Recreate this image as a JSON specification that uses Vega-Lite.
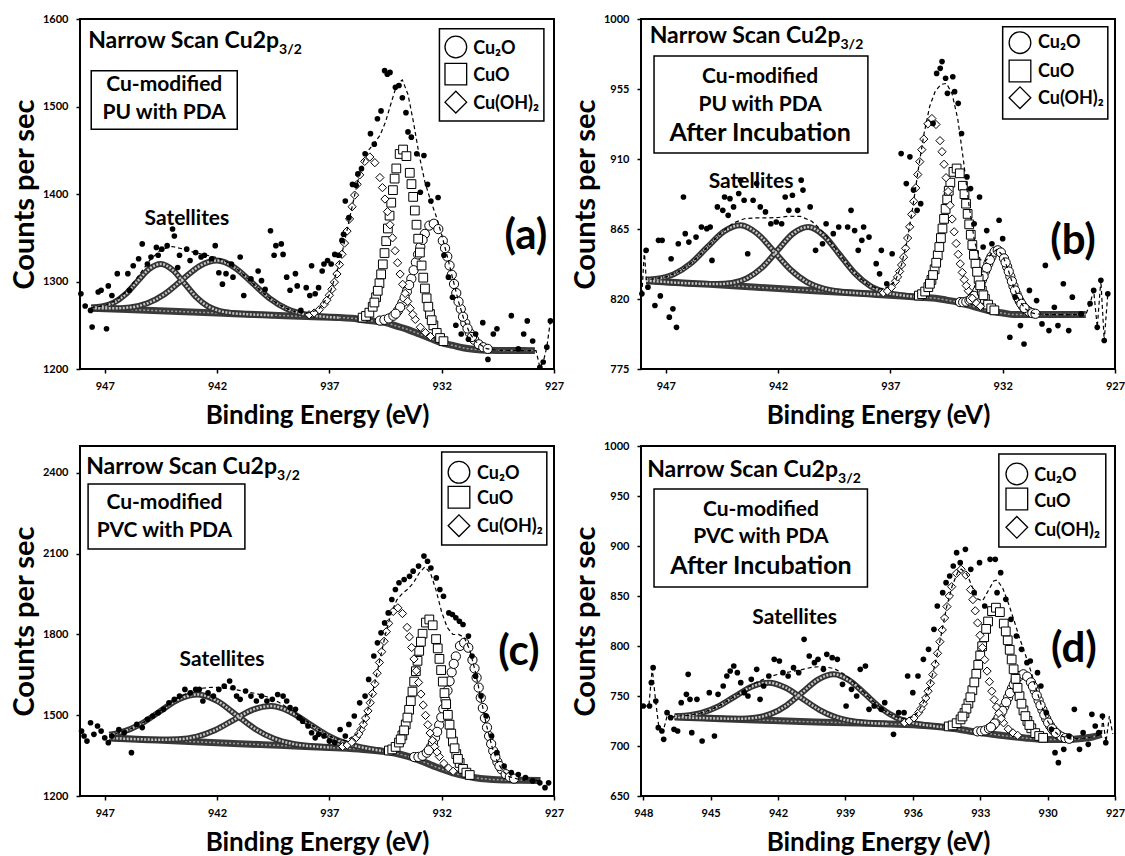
{
"$schema": "https://vega.github.io/schema/vega-lite/v6.json",
"background": "white",
"padding": {"left": 9, "top": 12, "right": 0, "bottom": 0},
"config": {
  "font": "Lato",
  "view": {"stroke": "black", "strokeWidth": 2},
  "axis": {"domain": false, "grid": false, "ticks": true, "tickSize": 4, "tickColor": "black", "tickWidth": 1.5, "labelFont": "Lato", "labelFontWeight": "bold", "labelFontSize": 11, "labelColor": "black", "labelPadding": 7, "titleFont": "Lato", "titleFontWeight": "bold", "titleFontSize": 26, "titleColor": "black", "labelFlush": false, "labelOverlap": false},
  "axisX": {"titlePadding": 11},
  "axisY": {"titlePadding": 3, "labelPadding": 8, "titleFontSize": 29}
},
"datasets": {
"bg": [
{"p":"a","x":947.6,"y":1269.5},{"p":"a","x":946,"y":1268},{"p":"a","x":944,"y":1266},{"p":"a","x":942,"y":1264},{"p":"a","x":940,"y":1262},{"p":"a","x":938,"y":1260},{"p":"a","x":936,"y":1258},{"p":"a","x":935.5,"y":1256.3},{"p":"a","x":935,"y":1254.7},{"p":"a","x":934.5,"y":1253},{"p":"a","x":934,"y":1249},{"p":"a","x":933.5,"y":1245},{"p":"a","x":933,"y":1240},{"p":"a","x":932.5,"y":1235},{"p":"a","x":932,"y":1230},{"p":"a","x":931.5,"y":1227},{"p":"a","x":931,"y":1224},{"p":"a","x":930.5,"y":1222.3},{"p":"a","x":930,"y":1221.5},{"p":"a","x":929,"y":1221.2},{"p":"a","x":927.85,"y":1221},
{"p":"b","x":947.87,"y":831.8},{"p":"b","x":946,"y":830.2},{"p":"b","x":944,"y":828.5},{"p":"b","x":942,"y":826.7},{"p":"b","x":940,"y":825},{"p":"b","x":938,"y":823.3},{"p":"b","x":936.5,"y":822},{"p":"b","x":935.5,"y":821},{"p":"b","x":935,"y":820.5},{"p":"b","x":934.5,"y":819.3},{"p":"b","x":934,"y":818},{"p":"b","x":933.5,"y":816},{"p":"b","x":933,"y":814},{"p":"b","x":932.5,"y":812},{"p":"b","x":932,"y":811},{"p":"b","x":931.5,"y":810},{"p":"b","x":930,"y":810},{"p":"b","x":928.3,"y":810},
{"p":"c","x":946.8,"y":1415.3},{"p":"c","x":945,"y":1408.8},{"p":"c","x":943,"y":1401.6},{"p":"c","x":941,"y":1394.3},{"p":"c","x":939,"y":1387.1},{"p":"c","x":937,"y":1379.8},{"p":"c","x":936.5,"y":1378},{"p":"c","x":935.5,"y":1373},{"p":"c","x":934.5,"y":1365},{"p":"c","x":934,"y":1358},{"p":"c","x":933.5,"y":1347},{"p":"c","x":933,"y":1333},{"p":"c","x":932.5,"y":1316},{"p":"c","x":932,"y":1300},{"p":"c","x":931.5,"y":1286},{"p":"c","x":931,"y":1276},{"p":"c","x":930.5,"y":1268},{"p":"c","x":930,"y":1263},{"p":"c","x":929.5,"y":1260},{"p":"c","x":928.5,"y":1258.7},{"p":"c","x":927.6,"y":1258},
{"p":"d","x":946.6,"y":729},{"p":"d","x":945,"y":727.7},{"p":"d","x":943,"y":726.1},{"p":"d","x":941,"y":724.5},{"p":"d","x":939,"y":723.3},{"p":"d","x":937,"y":722},{"p":"d","x":935.5,"y":720.5},{"p":"d","x":934.5,"y":718.5},{"p":"d","x":934,"y":717},{"p":"d","x":933.5,"y":715},{"p":"d","x":933,"y":713.5},{"p":"d","x":932,"y":710.5},{"p":"d","x":931,"y":708},{"p":"d","x":930,"y":706.5},{"p":"d","x":929,"y":706.5},{"p":"d","x":928.5,"y":707.5},{"p":"d","x":928,"y":709},{"p":"d","x":927.6,"y":711.5}
],
"sat": [
{"p":"a","s":1,"x":947.6,"y":1270.2},{"p":"a","s":1,"x":947.125,"y":1271.4},{"p":"a","s":1,"x":946.6,"y":1275.8},{"p":"a","s":1,"x":946.075,"y":1285.4},{"p":"a","s":1,"x":945.55,"y":1300},{"p":"a","s":1,"x":945.025,"y":1314.2},{"p":"a","s":1,"x":944.5,"y":1320},{"p":"a","s":1,"x":943.975,"y":1313.2},{"p":"a","s":1,"x":943.45,"y":1297.9},{"p":"a","s":1,"x":942.925,"y":1282.2},{"p":"a","s":1,"x":942.4,"y":1271.6},{"p":"a","s":1,"x":941.875,"y":1266.2},{"p":"a","s":1,"x":941.35,"y":1263.9},{"p":"a","s":1,"x":940.5,"y":1262.4},{"p":"a","s":1,"x":939.5,"y":1261.4},
{"p":"a","s":2,"x":947.6,"y":1269.5},{"p":"a","s":2,"x":946.65,"y":1269.3},{"p":"a","s":2,"x":945.875,"y":1270.4},{"p":"a","s":2,"x":945.1,"y":1275.1},{"p":"a","s":2,"x":944.325,"y":1285.7},{"p":"a","s":2,"x":943.55,"y":1301.9},{"p":"a","s":2,"x":942.775,"y":1317.7},{"p":"a","s":2,"x":942,"y":1323.9},{"p":"a","s":2,"x":941.225,"y":1316.1},{"p":"a","s":2,"x":940.45,"y":1298.8},{"p":"a","s":2,"x":939.675,"y":1281.1},{"p":"a","s":2,"x":938.9,"y":1268.9},{"p":"a","s":2,"x":938.125,"y":1262.7},{"p":"a","s":2,"x":937.35,"y":1260},{"p":"a","s":2,"x":936.575,"y":1258.7},
{"p":"b","s":1,"x":947.87,"y":832.5},{"p":"b","s":1,"x":947.37,"y":833.1},{"p":"b","s":1,"x":946.63,"y":836},{"p":"b","s":1,"x":945.89,"y":842.8},{"p":"b","s":1,"x":945.15,"y":853.3},{"p":"b","s":1,"x":944.41,"y":863.4},{"p":"b","s":1,"x":943.67,"y":867.4},{"p":"b","s":1,"x":942.93,"y":862.1},{"p":"b","s":1,"x":942.19,"y":850.7},{"p":"b","s":1,"x":941.45,"y":839},{"p":"b","s":1,"x":940.71,"y":830.9},{"p":"b","s":1,"x":939.97,"y":826.7},{"p":"b","s":1,"x":939.23,"y":824.7},{"p":"b","s":1,"x":938.49,"y":823.8},{"p":"b","s":1,"x":937.5,"y":822.9},
{"p":"b","s":2,"x":947.87,"y":831.8},{"p":"b","s":2,"x":945.41,"y":829.8},{"p":"b","s":2,"x":944.73,"y":829.6},{"p":"b","s":2,"x":944.05,"y":830.3},{"p":"b","s":2,"x":943.37,"y":833.4},{"p":"b","s":2,"x":942.69,"y":840.5},{"p":"b","s":2,"x":942.01,"y":851.5},{"p":"b","s":2,"x":941.33,"y":862.1},{"p":"b","s":2,"x":940.65,"y":866.3},{"p":"b","s":2,"x":939.97,"y":860.9},{"p":"b","s":2,"x":939.29,"y":849.1},{"p":"b","s":2,"x":938.61,"y":837},{"p":"b","s":2,"x":937.93,"y":828.7},{"p":"b","s":2,"x":937.25,"y":824.4},{"p":"b","s":2,"x":936.57,"y":822.5},{"p":"b","s":2,"x":935.89,"y":821.5},
{"p":"c","s":1,"x":946.8,"y":1427.3},{"p":"c","s":1,"x":946.25,"y":1437.1},{"p":"c","s":1,"x":945.4,"y":1467.3},{"p":"c","s":1,"x":944.55,"y":1513.9},{"p":"c","s":1,"x":943.7,"y":1559.4},{"p":"c","s":1,"x":942.85,"y":1577},{"p":"c","s":1,"x":942,"y":1553.2},{"p":"c","s":1,"x":941.15,"y":1501.6},{"p":"c","s":1,"x":940.3,"y":1448.9},{"p":"c","s":1,"x":939.45,"y":1412.5},{"p":"c","s":1,"x":938.6,"y":1393.3},{"p":"c","s":1,"x":937.75,"y":1384.6},{"p":"c","s":1,"x":936.9,"y":1379.9},
{"p":"c","s":2,"x":946.8,"y":1415.3},{"p":"c","s":2,"x":945.375,"y":1410.5},{"p":"c","s":2,"x":944.55,"y":1408.8},{"p":"c","s":2,"x":943.725,"y":1410.6},{"p":"c","s":2,"x":942.9,"y":1420.8},{"p":"c","s":2,"x":942.075,"y":1445.2},{"p":"c","s":2,"x":941.25,"y":1483},{"p":"c","s":2,"x":940.425,"y":1520},{"p":"c","s":2,"x":939.6,"y":1534},{"p":"c","s":2,"x":938.775,"y":1514.1},{"p":"c","s":2,"x":937.95,"y":1471.1},{"p":"c","s":2,"x":937.125,"y":1427.3},{"p":"c","s":2,"x":936.3,"y":1396.7},{"p":"c","s":2,"x":935.475,"y":1379.2},{"p":"c","s":2,"x":934.65,"y":1367.8},
{"p":"d","s":1,"x":946.6,"y":729.8},{"p":"d","s":1,"x":946.16,"y":730.3},{"p":"d","s":1,"x":945.41,"y":733.1},{"p":"d","s":1,"x":944.66,"y":739.6},{"p":"d","s":1,"x":943.91,"y":749.7},{"p":"d","s":1,"x":943.16,"y":759.5},{"p":"d","s":1,"x":942.41,"y":763.3},{"p":"d","s":1,"x":941.66,"y":758.3},{"p":"d","s":1,"x":940.91,"y":747.3},{"p":"d","s":1,"x":940.16,"y":736.2},{"p":"d","s":1,"x":939.41,"y":728.6},{"p":"d","s":1,"x":938.66,"y":724.7},{"p":"d","s":1,"x":937.91,"y":723},{"p":"d","s":1,"x":937.16,"y":722.2},
{"p":"d","s":2,"x":946.6,"y":729},{"p":"d","s":2,"x":944.42,"y":727.4},{"p":"d","s":2,"x":943.72,"y":727.2},{"p":"d","s":2,"x":943.02,"y":728.2},{"p":"d","s":2,"x":942.32,"y":732.1},{"p":"d","s":2,"x":941.62,"y":740.6},{"p":"d","s":2,"x":940.92,"y":753.6},{"p":"d","s":2,"x":940.22,"y":766.4},{"p":"d","s":2,"x":939.52,"y":771.7},{"p":"d","s":2,"x":938.82,"y":765.5},{"p":"d","s":2,"x":938.12,"y":751.9},{"p":"d","s":2,"x":937.42,"y":737.9},{"p":"d","s":2,"x":936.72,"y":728.2},{"p":"d","s":2,"x":936.02,"y":723.1},{"p":"d","s":2,"x":935.32,"y":720.6},{"p":"d","s":2,"x":934.62,"y":718.8}
],
"cmp": [
{"p":"a","c":"o","x":934.75,"y":1255.3},{"p":"a","c":"o","x":934.55,"y":1256.2},{"p":"a","c":"o","x":934.35,"y":1257.8},{"p":"a","c":"o","x":934.15,"y":1260.9},{"p":"a","c":"o","x":933.95,"y":1266.5},{"p":"a","c":"o","x":933.75,"y":1275.7},{"p":"a","c":"o","x":933.55,"y":1288.4},{"p":"a","c":"o","x":933.35,"y":1303.2},{"p":"a","c":"o","x":933.15,"y":1321.9},{"p":"a","c":"o","x":932.95,"y":1339.5},{"p":"a","c":"o","x":932.75,"y":1354.4},{"p":"a","c":"o","x":932.55,"y":1363.9},{"p":"a","c":"o","x":932.35,"y":1366},{"p":"a","c":"o","x":932.15,"y":1359.9},{"p":"a","c":"o","x":931.95,"y":1346.6},{"p":"a","c":"o","x":931.75,"y":1328.5},{"p":"a","c":"o","x":931.55,"y":1307.7},{"p":"a","c":"o","x":931.35,"y":1286.8},{"p":"a","c":"o","x":931.15,"y":1268.6},{"p":"a","c":"o","x":930.95,"y":1252.6},{"p":"a","c":"o","x":930.75,"y":1241.3},{"p":"a","c":"o","x":930.55,"y":1233.4},{"p":"a","c":"o","x":930.35,"y":1228.2},{"p":"a","c":"o","x":930.15,"y":1224.9},{"p":"a","c":"o","x":929.95,"y":1223},
{"p":"a","c":"o","x":932.85,"y":1347.5},{"p":"a","c":"o","x":933.05,"y":1330.9},{"p":"a","c":"o","x":933.25,"y":1312.9},{"p":"a","c":"o","x":933.45,"y":1296},{"p":"a","c":"o","x":933.65,"y":1281.6},{"p":"a","c":"o","x":933.85,"y":1270.6},{"p":"a","c":"o","x":934.05,"y":1263.2},{"p":"a","c":"o","x":931.85,"y":1338.1},{"p":"a","c":"o","x":931.65,"y":1318.3},{"p":"a","c":"o","x":931.45,"y":1297.1},{"p":"a","c":"o","x":931.25,"y":1277},{"p":"a","c":"o","x":931.05,"y":1259.7},{"p":"a","c":"o","x":930.85,"y":1246.3},{"p":"a","c":"o","x":930.65,"y":1236.6},
{"p":"a","c":"s","x":935.52,"y":1258.7},{"p":"a","c":"s","x":935.37,"y":1260.6},{"p":"a","c":"s","x":935.22,"y":1264.4},{"p":"a","c":"s","x":935.07,"y":1271.1},{"p":"a","c":"s","x":934.92,"y":1282},{"p":"a","c":"s","x":934.77,"y":1298},{"p":"a","c":"s","x":934.62,"y":1319.6},{"p":"a","c":"s","x":934.47,"y":1346.2},{"p":"a","c":"s","x":934.32,"y":1375.3},{"p":"a","c":"s","x":934.17,"y":1404.4},{"p":"a","c":"s","x":934.02,"y":1429.2},{"p":"a","c":"s","x":933.87,"y":1445.7},{"p":"a","c":"s","x":933.72,"y":1450.8},{"p":"a","c":"s","x":933.57,"y":1443.3},{"p":"a","c":"s","x":933.42,"y":1424.2},{"p":"a","c":"s","x":933.27,"y":1396.7},{"p":"a","c":"s","x":933.12,"y":1364.9},{"p":"a","c":"s","x":932.97,"y":1333.1},{"p":"a","c":"s","x":932.82,"y":1304.4},{"p":"a","c":"s","x":932.67,"y":1280.8},{"p":"a","c":"s","x":932.52,"y":1262.8},{"p":"a","c":"s","x":932.37,"y":1249.9},{"p":"a","c":"s","x":932.22,"y":1241.2},{"p":"a","c":"s","x":932.07,"y":1235.4},{"p":"a","c":"s","x":931.92,"y":1231.8},
{"p":"a","c":"s","x":934.095,"y":1417.6},{"p":"a","c":"s","x":934.245,"y":1390.1},{"p":"a","c":"s","x":934.395,"y":1360.6},{"p":"a","c":"s","x":934.545,"y":1332.5},{"p":"a","c":"s","x":934.695,"y":1308.2},{"p":"a","c":"s","x":934.845,"y":1289.4},{"p":"a","c":"s","x":934.995,"y":1276},{"p":"a","c":"s","x":933.345,"y":1411.3},{"p":"a","c":"s","x":933.195,"y":1381.1},{"p":"a","c":"s","x":933.045,"y":1348.9},{"p":"a","c":"s","x":932.895,"y":1318.3},{"p":"a","c":"s","x":932.745,"y":1292},{"p":"a","c":"s","x":932.595,"y":1271.2},{"p":"a","c":"s","x":932.445,"y":1255.8},
{"p":"a","c":"d","x":937.9,"y":1262},{"p":"a","c":"d","x":937.675,"y":1264},{"p":"a","c":"d","x":937.45,"y":1267.7},{"p":"a","c":"d","x":937.225,"y":1274.1},{"p":"a","c":"d","x":937.0,"y":1284.3},{"p":"a","c":"d","x":936.775,"y":1299.2},{"p":"a","c":"d","x":936.55,"y":1319.3},{"p":"a","c":"d","x":936.325,"y":1343.9},{"p":"a","c":"d","x":936.1,"y":1371.5},{"p":"a","c":"d","x":935.875,"y":1398.7},{"p":"a","c":"d","x":935.65,"y":1421.8},{"p":"a","c":"d","x":935.425,"y":1437.3},{"p":"a","c":"d","x":935.2,"y":1442.3},{"p":"a","c":"d","x":934.975,"y":1435.8},{"p":"a","c":"d","x":934.75,"y":1418.8},{"p":"a","c":"d","x":934.525,"y":1394.2},{"p":"a","c":"d","x":934.3,"y":1364.8},{"p":"a","c":"d","x":934.075,"y":1335.2},{"p":"a","c":"d","x":933.85,"y":1308.5},{"p":"a","c":"d","x":933.625,"y":1286.4},{"p":"a","c":"d","x":933.4,"y":1269.3},{"p":"a","c":"d","x":933.175,"y":1256.7},{"p":"a","c":"d","x":932.95,"y":1247.7},{"p":"a","c":"d","x":932.725,"y":1241.6},{"p":"a","c":"d","x":932.5,"y":1237.1},
{"p":"a","c":"d","x":935.7625,"y":1411},{"p":"a","c":"d","x":935.9875,"y":1385.5},{"p":"a","c":"d","x":936.2125,"y":1357.6},{"p":"a","c":"d","x":936.4375,"y":1331.1},{"p":"a","c":"d","x":936.6625,"y":1308.6},{"p":"a","c":"d","x":936.8875,"y":1291.1},{"p":"a","c":"d","x":937.1125,"y":1278.6},{"p":"a","c":"d","x":934.6375,"y":1407.3},{"p":"a","c":"d","x":934.4125,"y":1379.8},{"p":"a","c":"d","x":934.1875,"y":1349.9},{"p":"a","c":"d","x":933.9625,"y":1321.4},{"p":"a","c":"d","x":933.7375,"y":1296.8},{"p":"a","c":"d","x":933.5125,"y":1277.3},{"p":"a","c":"d","x":933.2875,"y":1262.4},
{"p":"b","c":"o","x":933.9,"y":818},{"p":"b","c":"o","x":933.76,"y":817.9},{"p":"b","c":"o","x":933.62,"y":818.3},{"p":"b","c":"o","x":933.48,"y":819.1},{"p":"b","c":"o","x":933.34,"y":820.8},{"p":"b","c":"o","x":933.2,"y":823.4},{"p":"b","c":"o","x":933.06,"y":827.2},{"p":"b","c":"o","x":932.92,"y":832.3},{"p":"b","c":"o","x":932.78,"y":837.9},{"p":"b","c":"o","x":932.64,"y":842.7},{"p":"b","c":"o","x":932.5,"y":847.2},{"p":"b","c":"o","x":932.36,"y":850.4},{"p":"b","c":"o","x":932.22,"y":851.3},{"p":"b","c":"o","x":932.08,"y":849.9},{"p":"b","c":"o","x":931.94,"y":846.1},{"p":"b","c":"o","x":931.8,"y":840.7},{"p":"b","c":"o","x":931.66,"y":834.5},{"p":"b","c":"o","x":931.52,"y":828.3},{"p":"b","c":"o","x":931.38,"y":823},{"p":"b","c":"o","x":931.24,"y":818.6},{"p":"b","c":"o","x":931.1,"y":815.4},{"p":"b","c":"o","x":930.96,"y":813.2},{"p":"b","c":"o","x":930.82,"y":811.8},{"p":"b","c":"o","x":930.68,"y":810.9},{"p":"b","c":"o","x":930.54,"y":810.5},
{"p":"b","c":"o","x":932.57,"y":845.1},{"p":"b","c":"o","x":932.71,"y":840},{"p":"b","c":"o","x":932.85,"y":834.6},{"p":"b","c":"o","x":932.99,"y":829.5},{"p":"b","c":"o","x":933.13,"y":825.2},{"p":"b","c":"o","x":933.27,"y":822},{"p":"b","c":"o","x":933.41,"y":819.8},{"p":"b","c":"o","x":931.87,"y":843.5},{"p":"b","c":"o","x":931.73,"y":837.7},{"p":"b","c":"o","x":931.59,"y":831.4},{"p":"b","c":"o","x":931.45,"y":825.5},{"p":"b","c":"o","x":931.31,"y":820.7},{"p":"b","c":"o","x":931.17,"y":816.9},{"p":"b","c":"o","x":931.03,"y":814.2},
{"p":"b","c":"s","x":935.73,"y":822.2},{"p":"b","c":"s","x":935.59,"y":823.1},{"p":"b","c":"s","x":935.45,"y":824.8},{"p":"b","c":"s","x":935.31,"y":827.6},{"p":"b","c":"s","x":935.17,"y":832.3},{"p":"b","c":"s","x":935.03,"y":839.1},{"p":"b","c":"s","x":934.89,"y":848.1},{"p":"b","c":"s","x":934.75,"y":859.2},{"p":"b","c":"s","x":934.61,"y":871.5},{"p":"b","c":"s","x":934.47,"y":884},{"p":"b","c":"s","x":934.33,"y":894.8},{"p":"b","c":"s","x":934.19,"y":901.7},{"p":"b","c":"s","x":934.05,"y":903.9},{"p":"b","c":"s","x":933.91,"y":900.8},{"p":"b","c":"s","x":933.77,"y":892.8},{"p":"b","c":"s","x":933.63,"y":881.3},{"p":"b","c":"s","x":933.49,"y":868},{"p":"b","c":"s","x":933.35,"y":854.7},{"p":"b","c":"s","x":933.21,"y":842.7},{"p":"b","c":"s","x":933.07,"y":832.9},{"p":"b","c":"s","x":932.93,"y":825.3},{"p":"b","c":"s","x":932.79,"y":820},{"p":"b","c":"s","x":932.65,"y":816.4},{"p":"b","c":"s","x":932.51,"y":814},{"p":"b","c":"s","x":932.37,"y":812.7},
{"p":"b","c":"s","x":934.4,"y":889.6},{"p":"b","c":"s","x":934.54,"y":877.9},{"p":"b","c":"s","x":934.68,"y":865.3},{"p":"b","c":"s","x":934.82,"y":853.4},{"p":"b","c":"s","x":934.96,"y":843.3},{"p":"b","c":"s","x":935.1,"y":835.4},{"p":"b","c":"s","x":935.24,"y":829.8},{"p":"b","c":"s","x":933.7,"y":887.4},{"p":"b","c":"s","x":933.56,"y":874.7},{"p":"b","c":"s","x":933.42,"y":861.3},{"p":"b","c":"s","x":933.28,"y":848.4},{"p":"b","c":"s","x":933.14,"y":837.5},{"p":"b","c":"s","x":933.0,"y":828.8},{"p":"b","c":"s","x":932.86,"y":822.4},
{"p":"b","c":"d","x":937.31,"y":824},{"p":"b","c":"d","x":937.13,"y":825.1},{"p":"b","c":"d","x":936.95,"y":827.5},{"p":"b","c":"d","x":936.77,"y":831.4},{"p":"b","c":"d","x":936.59,"y":837.7},{"p":"b","c":"d","x":936.41,"y":846.9},{"p":"b","c":"d","x":936.23,"y":859.2},{"p":"b","c":"d","x":936.05,"y":874.4},{"p":"b","c":"d","x":935.87,"y":891.4},{"p":"b","c":"d","x":935.69,"y":908.3},{"p":"b","c":"d","x":935.51,"y":922.8},{"p":"b","c":"d","x":935.33,"y":932.6},{"p":"b","c":"d","x":935.15,"y":936},{"p":"b","c":"d","x":934.97,"y":932.2},{"p":"b","c":"d","x":934.79,"y":921.8},{"p":"b","c":"d","x":934.61,"y":906.6},{"p":"b","c":"d","x":934.43,"y":889.1},{"p":"b","c":"d","x":934.25,"y":871.4},{"p":"b","c":"d","x":934.07,"y":855.7},{"p":"b","c":"d","x":933.89,"y":842.6},{"p":"b","c":"d","x":933.71,"y":832.4},{"p":"b","c":"d","x":933.53,"y":825.3},{"p":"b","c":"d","x":933.35,"y":820.5},{"p":"b","c":"d","x":933.17,"y":817.3},{"p":"b","c":"d","x":932.99,"y":815.3},
{"p":"b","c":"d","x":935.6,"y":916},{"p":"b","c":"d","x":935.78,"y":900},{"p":"b","c":"d","x":935.96,"y":882.8},{"p":"b","c":"d","x":936.14,"y":866.4},{"p":"b","c":"d","x":936.32,"y":852.6},{"p":"b","c":"d","x":936.5,"y":841.9},{"p":"b","c":"d","x":936.68,"y":834.2},{"p":"b","c":"d","x":934.7,"y":914.7},{"p":"b","c":"d","x":934.52,"y":898},{"p":"b","c":"d","x":934.34,"y":880.2},{"p":"b","c":"d","x":934.16,"y":863.2},{"p":"b","c":"d","x":933.98,"y":848.7},{"p":"b","c":"d","x":933.8,"y":837.1},{"p":"b","c":"d","x":933.62,"y":828.6},
{"p":"c","c":"o","x":933.22,"y":1344.7},{"p":"c","c":"o","x":933.035,"y":1345.2},{"p":"c","c":"o","x":932.85,"y":1349.5},{"p":"c","c":"o","x":932.665,"y":1360.8},{"p":"c","c":"o","x":932.48,"y":1382.1},{"p":"c","c":"o","x":932.295,"y":1416},{"p":"c","c":"o","x":932.11,"y":1463.6},{"p":"c","c":"o","x":931.925,"y":1523.6},{"p":"c","c":"o","x":931.74,"y":1591.7},{"p":"c","c":"o","x":931.555,"y":1659.6},{"p":"c","c":"o","x":931.37,"y":1718.5},{"p":"c","c":"o","x":931.185,"y":1757.5},{"p":"c","c":"o","x":931.0,"y":1769},{"p":"c","c":"o","x":930.815,"y":1750.8},{"p":"c","c":"o","x":930.63,"y":1705.2},{"p":"c","c":"o","x":930.445,"y":1639.6},{"p":"c","c":"o","x":930.26,"y":1565},{"p":"c","c":"o","x":930.075,"y":1489.5},{"p":"c","c":"o","x":929.89,"y":1422.4},{"p":"c","c":"o","x":929.705,"y":1367.8},{"p":"c","c":"o","x":929.52,"y":1326.8},{"p":"c","c":"o","x":929.335,"y":1299},{"p":"c","c":"o","x":929.15,"y":1281.1},{"p":"c","c":"o","x":928.965,"y":1270.5},{"p":"c","c":"o","x":928.78,"y":1264.5},
{"p":"c","c":"o","x":931.4625,"y":1690.8},{"p":"c","c":"o","x":931.6475,"y":1626.3},{"p":"c","c":"o","x":931.8325,"y":1557.2},{"p":"c","c":"o","x":932.0175,"y":1492.2},{"p":"c","c":"o","x":932.2025,"y":1438.2},{"p":"c","c":"o","x":932.3875,"y":1397.4},{"p":"c","c":"o","x":932.5725,"y":1370},{"p":"c","c":"o","x":930.5375,"y":1674.1},{"p":"c","c":"o","x":930.3525,"y":1602.7},{"p":"c","c":"o","x":930.1675,"y":1526.6},{"p":"c","c":"o","x":929.9825,"y":1454.5},{"p":"c","c":"o","x":929.7975,"y":1393.5},{"p":"c","c":"o","x":929.6125,"y":1345.7},{"p":"c","c":"o","x":929.4275,"y":1311.4},
{"p":"c","c":"s","x":934.35,"y":1368.9},{"p":"c","c":"s","x":934.2,"y":1373.1},{"p":"c","c":"s","x":934.05,"y":1382.3},{"p":"c","c":"s","x":933.9,"y":1398.6},{"p":"c","c":"s","x":933.75,"y":1425.2},{"p":"c","c":"s","x":933.6,"y":1465.9},{"p":"c","c":"s","x":933.45,"y":1520.3},{"p":"c","c":"s","x":933.3,"y":1587.7},{"p":"c","c":"s","x":933.15,"y":1663.5},{"p":"c","c":"s","x":933.0,"y":1739.1},{"p":"c","c":"s","x":932.85,"y":1802.7},{"p":"c","c":"s","x":932.7,"y":1844.2},{"p":"c","c":"s","x":932.55,"y":1855.7},{"p":"c","c":"s","x":932.4,"y":1834.2},{"p":"c","c":"s","x":932.25,"y":1782.8},{"p":"c","c":"s","x":932.1,"y":1709.3},{"p":"c","c":"s","x":931.95,"y":1624.9},{"p":"c","c":"s","x":931.8,"y":1541.1},{"p":"c","c":"s","x":931.65,"y":1464.9},{"p":"c","c":"s","x":931.5,"y":1402.4},{"p":"c","c":"s","x":931.35,"y":1355.8},{"p":"c","c":"s","x":931.2,"y":1322.8},{"p":"c","c":"s","x":931.05,"y":1300.6},{"p":"c","c":"s","x":930.9,"y":1286.7},{"p":"c","c":"s","x":930.75,"y":1278},
{"p":"c","c":"s","x":932.925,"y":1773.1},{"p":"c","c":"s","x":933.075,"y":1702},{"p":"c","c":"s","x":933.225,"y":1625.1},{"p":"c","c":"s","x":933.375,"y":1552.6},{"p":"c","c":"s","x":933.525,"y":1491.3},{"p":"c","c":"s","x":933.675,"y":1443.7},{"p":"c","c":"s","x":933.825,"y":1410.4},{"p":"c","c":"s","x":932.175,"y":1748.2},{"p":"c","c":"s","x":932.025,"y":1667.7},{"p":"c","c":"s","x":931.875,"y":1582.3},{"p":"c","c":"s","x":931.725,"y":1501.4},{"p":"c","c":"s","x":931.575,"y":1431.8},{"p":"c","c":"s","x":931.425,"y":1377.3},{"p":"c","c":"s","x":931.275,"y":1337.7},
{"p":"c","c":"d","x":936.41,"y":1383.6},{"p":"c","c":"d","x":936.205,"y":1388.9},{"p":"c","c":"d","x":936.0,"y":1399.3},{"p":"c","c":"d","x":935.795,"y":1417.6},{"p":"c","c":"d","x":935.59,"y":1447.1},{"p":"c","c":"d","x":935.385,"y":1489.3},{"p":"c","c":"d","x":935.18,"y":1546.4},{"p":"c","c":"d","x":934.975,"y":1616.9},{"p":"c","c":"d","x":934.77,"y":1695.9},{"p":"c","c":"d","x":934.565,"y":1774.6},{"p":"c","c":"d","x":934.36,"y":1841.3},{"p":"c","c":"d","x":934.155,"y":1885.5},{"p":"c","c":"d","x":933.95,"y":1898.9},{"p":"c","c":"d","x":933.745,"y":1877.7},{"p":"c","c":"d","x":933.54,"y":1826.2},{"p":"c","c":"d","x":933.335,"y":1751.5},{"p":"c","c":"d","x":933.13,"y":1665.3},{"p":"c","c":"d","x":932.925,"y":1578.6},{"p":"c","c":"d","x":932.72,"y":1499.5},{"p":"c","c":"d","x":932.515,"y":1433.8},{"p":"c","c":"d","x":932.31,"y":1383.3},{"p":"c","c":"d","x":932.105,"y":1346.5},{"p":"c","c":"d","x":931.9,"y":1321},{"p":"c","c":"d","x":931.695,"y":1303.9},{"p":"c","c":"d","x":931.49,"y":1291.9},
{"p":"c","c":"d","x":934.4625,"y":1810.3},{"p":"c","c":"d","x":934.6675,"y":1735.9},{"p":"c","c":"d","x":934.8725,"y":1656},{"p":"c","c":"d","x":935.0775,"y":1580.2},{"p":"c","c":"d","x":935.2825,"y":1516.1},{"p":"c","c":"d","x":935.4875,"y":1466.3},{"p":"c","c":"d","x":935.6925,"y":1430.6},{"p":"c","c":"d","x":933.4375,"y":1791.1},{"p":"c","c":"d","x":933.2325,"y":1709.1},{"p":"c","c":"d","x":933.0275,"y":1621.8},{"p":"c","c":"d","x":932.8225,"y":1537.6},{"p":"c","c":"d","x":932.6175,"y":1464.8},{"p":"c","c":"d","x":932.4125,"y":1406.6},{"p":"c","c":"d","x":932.2075,"y":1363.2},
{"p":"d","c":"o","x":933.12,"y":714.6},{"p":"d","c":"o","x":932.95,"y":714.8},{"p":"d","c":"o","x":932.78,"y":715.6},{"p":"d","c":"o","x":932.61,"y":717.4},{"p":"d","c":"o","x":932.44,"y":720.4},{"p":"d","c":"o","x":932.27,"y":724.9},{"p":"d","c":"o","x":932.1,"y":731.4},{"p":"d","c":"o","x":931.93,"y":739.4},{"p":"d","c":"o","x":931.76,"y":748.4},{"p":"d","c":"o","x":931.59,"y":757.4},{"p":"d","c":"o","x":931.42,"y":766.1},{"p":"d","c":"o","x":931.25,"y":770.1},{"p":"d","c":"o","x":931.08,"y":771.7},{"p":"d","c":"o","x":930.91,"y":769.4},{"p":"d","c":"o","x":930.74,"y":763.6},{"p":"d","c":"o","x":930.57,"y":755.3},{"p":"d","c":"o","x":930.4,"y":745.6},{"p":"d","c":"o","x":930.23,"y":736.2},{"p":"d","c":"o","x":930.06,"y":727.2},{"p":"d","c":"o","x":929.89,"y":720.2},{"p":"d","c":"o","x":929.72,"y":715.1},{"p":"d","c":"o","x":929.55,"y":711.6},{"p":"d","c":"o","x":929.38,"y":709.3},{"p":"d","c":"o","x":929.21,"y":707.9},{"p":"d","c":"o","x":929.04,"y":707.2},
{"p":"d","c":"o","x":931.505,"y":761.5},{"p":"d","c":"o","x":931.675,"y":753},{"p":"d","c":"o","x":931.845,"y":743.8},{"p":"d","c":"o","x":932.015,"y":735.2},{"p":"d","c":"o","x":932.185,"y":728},{"p":"d","c":"o","x":932.355,"y":722.5},{"p":"d","c":"o","x":932.525,"y":718.7},{"p":"d","c":"o","x":930.655,"y":759.7},{"p":"d","c":"o","x":930.485,"y":750.5},{"p":"d","c":"o","x":930.315,"y":740.7},{"p":"d","c":"o","x":930.145,"y":731.4},{"p":"d","c":"o","x":929.975,"y":723.4},{"p":"d","c":"o","x":929.805,"y":717.4},{"p":"d","c":"o","x":929.635,"y":713.1},
{"p":"d","c":"s","x":934.4,"y":719.6},{"p":"d","c":"s","x":934.225,"y":720.6},{"p":"d","c":"s","x":934.05,"y":722.8},{"p":"d","c":"s","x":933.875,"y":726.6},{"p":"d","c":"s","x":933.7,"y":733},{"p":"d","c":"s","x":933.525,"y":742.5},{"p":"d","c":"s","x":933.35,"y":755.8},{"p":"d","c":"s","x":933.175,"y":772.1},{"p":"d","c":"s","x":933.0,"y":790.5},{"p":"d","c":"s","x":932.825,"y":808.8},{"p":"d","c":"s","x":932.65,"y":824.5},{"p":"d","c":"s","x":932.475,"y":834.9},{"p":"d","c":"s","x":932.3,"y":838.3},{"p":"d","c":"s","x":932.125,"y":833.9},{"p":"d","c":"s","x":931.95,"y":822.4},{"p":"d","c":"s","x":931.775,"y":805.7},{"p":"d","c":"s","x":931.6,"y":786.5},{"p":"d","c":"s","x":931.425,"y":767.2},{"p":"d","c":"s","x":931.25,"y":749.8},{"p":"d","c":"s","x":931.075,"y":735.6},{"p":"d","c":"s","x":930.9,"y":725.1},{"p":"d","c":"s","x":930.725,"y":717.7},{"p":"d","c":"s","x":930.55,"y":712.9},{"p":"d","c":"s","x":930.375,"y":710},{"p":"d","c":"s","x":930.2,"y":708.2},
{"p":"d","c":"s","x":932.7375,"y":817.1},{"p":"d","c":"s","x":932.9125,"y":799.7},{"p":"d","c":"s","x":933.0875,"y":781.2},{"p":"d","c":"s","x":933.2625,"y":763.6},{"p":"d","c":"s","x":933.4375,"y":748.7},{"p":"d","c":"s","x":933.6125,"y":737.4},{"p":"d","c":"s","x":933.7875,"y":729.5},{"p":"d","c":"s","x":931.8625,"y":814.6},{"p":"d","c":"s","x":931.6875,"y":796.2},{"p":"d","c":"s","x":931.5125,"y":776.7},{"p":"d","c":"s","x":931.3375,"y":758.1},{"p":"d","c":"s","x":931.1625,"y":742.3},{"p":"d","c":"s","x":930.9875,"y":729.9},{"p":"d","c":"s","x":930.8125,"y":721},
{"p":"d","c":"d","x":936.37,"y":723.2},{"p":"d","c":"d","x":936.16,"y":724.9},{"p":"d","c":"d","x":935.95,"y":728},{"p":"d","c":"d","x":935.74,"y":733.5},{"p":"d","c":"d","x":935.53,"y":742.2},{"p":"d","c":"d","x":935.32,"y":754.8},{"p":"d","c":"d","x":935.11,"y":771.4},{"p":"d","c":"d","x":934.9,"y":792.7},{"p":"d","c":"d","x":934.69,"y":816.1},{"p":"d","c":"d","x":934.48,"y":839.4},{"p":"d","c":"d","x":934.27,"y":859.3},{"p":"d","c":"d","x":934.06,"y":872.6},{"p":"d","c":"d","x":933.85,"y":876.7},{"p":"d","c":"d","x":933.64,"y":871},{"p":"d","c":"d","x":933.43,"y":856.3},{"p":"d","c":"d","x":933.22,"y":835.2},{"p":"d","c":"d","x":933.01,"y":810.7},{"p":"d","c":"d","x":932.8,"y":786.3},{"p":"d","c":"d","x":932.59,"y":764.3},{"p":"d","c":"d","x":932.38,"y":746.3},{"p":"d","c":"d","x":932.17,"y":732.7},{"p":"d","c":"d","x":931.96,"y":723.2},{"p":"d","c":"d","x":931.75,"y":716.9},{"p":"d","c":"d","x":931.54,"y":713.1},{"p":"d","c":"d","x":931.33,"y":710.6},
{"p":"d","c":"d","x":934.375,"y":850},{"p":"d","c":"d","x":934.585,"y":828},{"p":"d","c":"d","x":934.795,"y":804.3},{"p":"d","c":"d","x":935.005,"y":781.8},{"p":"d","c":"d","x":935.215,"y":762.7},{"p":"d","c":"d","x":935.425,"y":748},{"p":"d","c":"d","x":935.635,"y":737.4},{"p":"d","c":"d","x":933.325,"y":846.4},{"p":"d","c":"d","x":933.115,"y":823.1},{"p":"d","c":"d","x":932.905,"y":798.4},{"p":"d","c":"d","x":932.695,"y":774.9},{"p":"d","c":"d","x":932.485,"y":754.8},{"p":"d","c":"d","x":932.275,"y":738.9},{"p":"d","c":"d","x":932.065,"y":727.5}
],
"env": [
{"p":"a","x":947.6,"y":1270.2},{"p":"a","x":947,"y":1272.5},{"p":"a","x":946.5,"y":1278.2},{"p":"a","x":946,"y":1289.5},{"p":"a","x":945.5,"y":1306.3},{"p":"a","x":945,"y":1324},{"p":"a","x":944.5,"y":1336.5},{"p":"a","x":944,"y":1340},{"p":"a","x":943.5,"y":1337.1},{"p":"a","x":943,"y":1333},{"p":"a","x":942.5,"y":1330.3},{"p":"a","x":942,"y":1327.2},{"p":"a","x":941.5,"y":1321.5},{"p":"a","x":941,"y":1311.9},{"p":"a","x":940.5,"y":1300},{"p":"a","x":940,"y":1288.1},{"p":"a","x":939.5,"y":1277.9},{"p":"a","x":939,"y":1270.1},{"p":"a","x":938.5,"y":1265.2},{"p":"a","x":938,"y":1263.7},{"p":"a","x":937.5,"y":1267.5},{"p":"a","x":937,"y":1284.6},{"p":"a","x":936.5,"y":1324.7},{"p":"a","x":936,"y":1383.9},{"p":"a","x":935.75,"y":1413.1},{"p":"a","x":935.5,"y":1435.9},{"p":"a","x":935.25,"y":1450.2},{"p":"a","x":935,"y":1458.2},{"p":"a","x":934.75,"y":1466.8},{"p":"a","x":934.5,"y":1482.3},{"p":"a","x":934.25,"y":1504},{"p":"a","x":934,"y":1524.9},{"p":"a","x":933.75,"y":1530.4},{"p":"a","x":933.5,"y":1513.8},{"p":"a","x":933.25,"y":1481.3},{"p":"a","x":933,"y":1444.2},{"p":"a","x":932.75,"y":1414.1},{"p":"a","x":932.5,"y":1393},{"p":"a","x":932.25,"y":1375},{"p":"a","x":932,"y":1353.6},{"p":"a","x":931.75,"y":1328.7},{"p":"a","x":931.5,"y":1302.5},{"p":"a","x":931.25,"y":1277},{"p":"a","x":931,"y":1255.8},{"p":"a","x":930.75,"y":1241},{"p":"a","x":930.5,"y":1231.5},{"p":"a","x":930,"y":1223.2},{"p":"a","x":929.5,"y":1221.3},{"p":"a","x":929,"y":1221.2},{"p":"a","x":928,"y":1221},{"p":"a","x":927.8,"y":1221},{"p":"a","x":927.63,"y":1202},{"p":"a","x":927.48,"y":1208},{"p":"a","x":927.32,"y":1225},{"p":"a","x":927.16,"y":1255},
{"p":"b","x":948.06,"y":823.3},{"p":"b","x":947.95,"y":851.3},{"p":"b","x":947.87,"y":832.5},{"p":"b","x":947.5,"y":832.9},{"p":"b","x":947,"y":834.2},{"p":"b","x":946.5,"y":837},{"p":"b","x":946,"y":841.6},{"p":"b","x":945.5,"y":848},{"p":"b","x":945,"y":855.7},{"p":"b","x":944.5,"y":863.1},{"p":"b","x":944,"y":868.8},{"p":"b","x":943.5,"y":871.6},{"p":"b","x":943,"y":872.2},{"p":"b","x":942.5,"y":872.1},{"p":"b","x":942,"y":872.4},{"p":"b","x":941.5,"y":873.2},{"p":"b","x":941,"y":873.1},{"p":"b","x":940.5,"y":870},{"p":"b","x":940,"y":863.2},{"p":"b","x":939.5,"y":853.7},{"p":"b","x":939,"y":844},{"p":"b","x":938.5,"y":835.5},{"p":"b","x":938,"y":829.2},{"p":"b","x":937.5,"y":826.3},{"p":"b","x":937,"y":827.9},{"p":"b","x":936.75,"y":832.7},{"p":"b","x":936.5,"y":842.2},{"p":"b","x":936.25,"y":857.6},{"p":"b","x":936,"y":879.2},{"p":"b","x":935.75,"y":903.8},{"p":"b","x":935.5,"y":926.4},{"p":"b","x":935.25,"y":943.8},{"p":"b","x":935,"y":953.6},{"p":"b","x":934.75,"y":957.9},{"p":"b","x":934.5,"y":958.6},{"p":"b","x":934.25,"y":951.8},{"p":"b","x":934,"y":935.9},{"p":"b","x":933.75,"y":909.5},{"p":"b","x":933.5,"y":880.4},{"p":"b","x":933.25,"y":856.8},{"p":"b","x":933,"y":845.3},{"p":"b","x":932.75,"y":844.7},{"p":"b","x":932.5,"y":849.1},{"p":"b","x":932.25,"y":851.9},{"p":"b","x":932,"y":848},{"p":"b","x":931.75,"y":838.5},{"p":"b","x":931.5,"y":827.4},{"p":"b","x":931.25,"y":818.9},{"p":"b","x":931,"y":813.7},{"p":"b","x":930.75,"y":811.3},{"p":"b","x":930.5,"y":810.4},{"p":"b","x":930,"y":810},{"p":"b","x":929,"y":810},{"p":"b","x":928.3,"y":810},{"p":"b","x":928.11,"y":817},{"p":"b","x":927.95,"y":825.5},{"p":"b","x":927.79,"y":801.8},{"p":"b","x":927.63,"y":832},{"p":"b","x":927.48,"y":793.3},{"p":"b","x":927.32,"y":823.3},
{"p":"c","x":946.8,"y":1427.3},{"p":"c","x":946.25,"y":1437.1},{"p":"c","x":945.75,"y":1452.4},{"p":"c","x":945.25,"y":1475.2},{"p":"c","x":944.75,"y":1503},{"p":"c","x":944.25,"y":1534.5},{"p":"c","x":943.75,"y":1563.4},{"p":"c","x":943.25,"y":1586.2},{"p":"c","x":942.75,"y":1599.6},{"p":"c","x":942.25,"y":1603.9},{"p":"c","x":941.75,"y":1601.9},{"p":"c","x":941.25,"y":1596.2},{"p":"c","x":940.75,"y":1588.3},{"p":"c","x":940.25,"y":1580.3},{"p":"c","x":939.75,"y":1567.6},{"p":"c","x":939.25,"y":1548.3},{"p":"c","x":938.75,"y":1522.5},{"p":"c","x":938.25,"y":1492.2},{"p":"c","x":937.75,"y":1461.9},{"p":"c","x":937.25,"y":1434.1},{"p":"c","x":936.75,"y":1413.1},{"p":"c","x":936.25,"y":1405.5},{"p":"c","x":935.75,"y":1431.6},{"p":"c","x":935.5,"y":1470.2},{"p":"c","x":935.25,"y":1530},{"p":"c","x":935,"y":1610.9},{"p":"c","x":934.75,"y":1706.1},{"p":"c","x":934.5,"y":1802},{"p":"c","x":934.25,"y":1878.7},{"p":"c","x":934,"y":1927.9},{"p":"c","x":933.75,"y":1952.1},{"p":"c","x":933.5,"y":1969.1},{"p":"c","x":933.25,"y":1992.7},{"p":"c","x":933,"y":2028.3},{"p":"c","x":932.75,"y":2051},{"p":"c","x":932.5,"y":2028.3},{"p":"c","x":932.25,"y":1964.5},{"p":"c","x":932,"y":1882.6},{"p":"c","x":931.75,"y":1825.6},{"p":"c","x":931.5,"y":1799.9},{"p":"c","x":931.25,"y":1800},{"p":"c","x":931,"y":1789.4},{"p":"c","x":930.75,"y":1743.4},{"p":"c","x":930.5,"y":1661},{"p":"c","x":930.25,"y":1561.3},{"p":"c","x":930,"y":1461.2},{"p":"c","x":929.75,"y":1379.8},{"p":"c","x":929.5,"y":1322.6},{"p":"c","x":929.25,"y":1290.3},{"p":"c","x":929,"y":1272.1},{"p":"c","x":928.5,"y":1260.3},{"p":"c","x":928,"y":1258.2},{"p":"c","x":927.6,"y":1258},
{"p":"d","x":948.0,"y":740},{"p":"d","x":947.75,"y":740},{"p":"d","x":947.6,"y":778},{"p":"d","x":947.45,"y":745},{"p":"d","x":947.3,"y":718},{"p":"d","x":947.1,"y":716},{"p":"d","x":946.9,"y":733},{"p":"d","x":946.75,"y":728},{"p":"d","x":946.6,"y":729.8},{"p":"d","x":946,"y":730.6},{"p":"d","x":945.5,"y":732.6},{"p":"d","x":945,"y":736.1},{"p":"d","x":944.5,"y":741.7},{"p":"d","x":944,"y":748.7},{"p":"d","x":943.5,"y":756.3},{"p":"d","x":943,"y":763.2},{"p":"d","x":942.5,"y":768.3},{"p":"d","x":942,"y":771.7},{"p":"d","x":941.5,"y":774},{"p":"d","x":941,"y":776.1},{"p":"d","x":940.5,"y":778.7},{"p":"d","x":940,"y":779.6},{"p":"d","x":939.5,"y":777.4},{"p":"d","x":939,"y":771.1},{"p":"d","x":938.5,"y":761.1},{"p":"d","x":938,"y":749.7},{"p":"d","x":937.5,"y":739.5},{"p":"d","x":937,"y":731.5},{"p":"d","x":936.5,"y":727.3},{"p":"d","x":936,"y":729.2},{"p":"d","x":935.75,"y":734.6},{"p":"d","x":935.5,"y":744.7},{"p":"d","x":935.25,"y":760.4},{"p":"d","x":935,"y":782.6},{"p":"d","x":934.75,"y":809.7},{"p":"d","x":934.5,"y":838.5},{"p":"d","x":934.25,"y":860},{"p":"d","x":934,"y":874},{"p":"d","x":933.85,"y":877},{"p":"d","x":933.6,"y":872},{"p":"d","x":933.35,"y":859},{"p":"d","x":933.1,"y":847},{"p":"d","x":932.9,"y":845},{"p":"d","x":932.65,"y":855},{"p":"d","x":932.4,"y":865},{"p":"d","x":932.25,"y":866},{"p":"d","x":932,"y":858},{"p":"d","x":931.75,"y":843},{"p":"d","x":931.5,"y":826},{"p":"d","x":931.25,"y":808},{"p":"d","x":931,"y":792},{"p":"d","x":930.75,"y":775.1},{"p":"d","x":930.5,"y":756.3},{"p":"d","x":930.25,"y":738.8},{"p":"d","x":930,"y":724.9},{"p":"d","x":929.75,"y":715.8},{"p":"d","x":929.5,"y":710.8},{"p":"d","x":929,"y":707.1},{"p":"d","x":928.5,"y":707.5},{"p":"d","x":928,"y":709},{"p":"d","x":927.6,"y":711.5},{"p":"d","x":927.55,"y":728},{"p":"d","x":927.4,"y":704},{"p":"d","x":927.25,"y":730},{"p":"d","x":927.1,"y":712}
],
"pts": [
{"p":"a","x":948.06,"y":1286},{"p":"a","x":947.87,"y":1272},{"p":"a","x":947.63,"y":1267},{"p":"a","x":947.56,"y":1248},{"p":"a","x":947.29,"y":1288},{"p":"a","x":947.16,"y":1290},{"p":"a","x":946.92,"y":1246},{"p":"a","x":946.84,"y":1295},{"p":"a","x":946.68,"y":1284},{"p":"a","x":946.44,"y":1309},{"p":"a","x":945.97,"y":1309},{"p":"a","x":945.9,"y":1290},{"p":"a","x":945.73,"y":1318},{"p":"a","x":945.49,"y":1326},{"p":"a","x":945.33,"y":1343},{"p":"a","x":945.1,"y":1320},{"p":"a","x":944.94,"y":1328},{"p":"a","x":944.7,"y":1339},{"p":"a","x":944.62,"y":1330},{"p":"a","x":944.46,"y":1337},{"p":"a","x":944.22,"y":1341},{"p":"a","x":943.98,"y":1360},{"p":"a","x":943.9,"y":1352},{"p":"a","x":943.75,"y":1316},{"p":"a","x":943.67,"y":1330},{"p":"a","x":943.35,"y":1337},{"p":"a","x":943.2,"y":1324},{"p":"a","x":942.95,"y":1333},{"p":"a","x":942.71,"y":1328},{"p":"a","x":942.56,"y":1330},{"p":"a","x":942.24,"y":1326},{"p":"a","x":942.08,"y":1341},{"p":"a","x":941.92,"y":1310},{"p":"a","x":941.76,"y":1297},{"p":"a","x":941.6,"y":1309},{"p":"a","x":941.36,"y":1320},{"p":"a","x":941.29,"y":1305},{"p":"a","x":940.97,"y":1328},{"p":"a","x":940.81,"y":1284},{"p":"a","x":940.49,"y":1303},{"p":"a","x":940.17,"y":1312},{"p":"a","x":940.02,"y":1301},{"p":"a","x":939.86,"y":1291},{"p":"a","x":939.62,"y":1358},{"p":"a","x":939.46,"y":1330},{"p":"a","x":939.38,"y":1341},{"p":"a","x":939.14,"y":1343},{"p":"a","x":939.06,"y":1331},{"p":"a","x":938.9,"y":1305},{"p":"a","x":938.75,"y":1290},{"p":"a","x":938.51,"y":1309},{"p":"a","x":938.43,"y":1295},{"p":"a","x":938.27,"y":1267},{"p":"a","x":938.03,"y":1293},{"p":"a","x":937.87,"y":1284},{"p":"a","x":937.79,"y":1318},{"p":"a","x":937.63,"y":1286},{"p":"a","x":937.48,"y":1293},{"p":"a","x":937.32,"y":1312},{"p":"a","x":937.24,"y":1320},{"p":"a","x":937.08,"y":1324},{"p":"a","x":936.92,"y":1320},{"p":"a","x":936.76,"y":1331},{"p":"a","x":936.6,"y":1330},{"p":"a","x":936.44,"y":1347},{"p":"a","x":936.37,"y":1354},{"p":"a","x":936.29,"y":1392},{"p":"a","x":936.13,"y":1373},{"p":"a","x":935.97,"y":1411},{"p":"a","x":935.81,"y":1410},{"p":"a","x":935.73,"y":1423},{"p":"a","x":935.57,"y":1429},{"p":"a","x":935.41,"y":1446},{"p":"a","x":935.17,"y":1469},{"p":"a","x":935.0,"y":1457},{"p":"a","x":934.86,"y":1486},{"p":"a","x":934.7,"y":1495},{"p":"a","x":934.54,"y":1541},{"p":"a","x":934.42,"y":1537},{"p":"a","x":934.3,"y":1539},{"p":"a","x":934.06,"y":1522},{"p":"a","x":933.9,"y":1524},{"p":"a","x":933.75,"y":1510},{"p":"a","x":933.59,"y":1493},{"p":"a","x":933.5,"y":1471},{"p":"a","x":933.35,"y":1465},{"p":"a","x":933.11,"y":1446},{"p":"a","x":932.95,"y":1402},{"p":"a","x":932.79,"y":1444},{"p":"a","x":932.63,"y":1411},{"p":"a","x":932.48,"y":1392},{"p":"a","x":932.16,"y":1396},{"p":"a","x":931.9,"y":1330},{"p":"a","x":931.7,"y":1305},{"p":"a","x":931.52,"y":1282},{"p":"a","x":931.37,"y":1250},{"p":"a","x":931.13,"y":1240},{"p":"a","x":930.81,"y":1234},{"p":"a","x":930.49,"y":1240},{"p":"a","x":930.17,"y":1253},{"p":"a","x":929.94,"y":1211},{"p":"a","x":929.7,"y":1240},{"p":"a","x":929.54,"y":1246},{"p":"a","x":928.9,"y":1261},{"p":"a","x":928.59,"y":1223},{"p":"a","x":928.35,"y":1240},{"p":"a","x":928.19,"y":1255},{"p":"a","x":927.95,"y":1232},{"p":"a","x":927.63,"y":1202},{"p":"a","x":927.48,"y":1208},{"p":"a","x":927.32,"y":1225},{"p":"a","x":927.16,"y":1255},
{"p":"b","x":948.06,"y":823.3},{"p":"b","x":947.87,"y":851.3},{"p":"b","x":947.79,"y":827.6},{"p":"b","x":947.48,"y":815.8},{"p":"b","x":947.32,"y":857.7},{"p":"b","x":947.16,"y":857.7},{"p":"b","x":947.24,"y":822},{"p":"b","x":946.84,"y":808.3},{"p":"b","x":946.68,"y":813.7},{"p":"b","x":946.76,"y":845.9},{"p":"b","x":946.52,"y":801.8},{"p":"b","x":946.44,"y":855.5},{"p":"b","x":946.21,"y":885.6},{"p":"b","x":946.13,"y":862},{"p":"b","x":945.97,"y":856.6},{"p":"b","x":945.65,"y":859.8},{"p":"b","x":945.41,"y":866.3},{"p":"b","x":945.17,"y":865.2},{"p":"b","x":945.02,"y":866.3},{"p":"b","x":944.94,"y":844.8},{"p":"b","x":944.7,"y":879.2},{"p":"b","x":944.46,"y":877},{"p":"b","x":944.38,"y":885.6},{"p":"b","x":944.22,"y":873.8},{"p":"b","x":944.14,"y":884.5},{"p":"b","x":943.98,"y":879.2},{"p":"b","x":943.75,"y":887.8},{"p":"b","x":943.67,"y":896.4},{"p":"b","x":943.51,"y":883.5},{"p":"b","x":943.35,"y":849.1},{"p":"b","x":943.11,"y":883.5},{"p":"b","x":942.95,"y":894.2},{"p":"b","x":942.79,"y":879.2},{"p":"b","x":942.56,"y":876},{"p":"b","x":942.32,"y":868.4},{"p":"b","x":942.08,"y":869.5},{"p":"b","x":941.84,"y":868.4},{"p":"b","x":941.68,"y":885.6},{"p":"b","x":941.52,"y":877},{"p":"b","x":941.36,"y":886.7},{"p":"b","x":941.13,"y":877},{"p":"b","x":940.97,"y":896.4},{"p":"b","x":940.89,"y":890},{"p":"b","x":940.57,"y":879.2},{"p":"b","x":940.33,"y":851.3},{"p":"b","x":940.02,"y":855.5},{"p":"b","x":939.86,"y":868.4},{"p":"b","x":939.54,"y":862},{"p":"b","x":939.3,"y":866.3},{"p":"b","x":938.9,"y":866.3},{"p":"b","x":938.75,"y":877},{"p":"b","x":938.59,"y":864},{"p":"b","x":938.43,"y":851.3},{"p":"b","x":938.27,"y":857.7},{"p":"b","x":938.19,"y":866.3},{"p":"b","x":937.95,"y":859.8},{"p":"b","x":937.63,"y":842.7},{"p":"b","x":937.48,"y":836.2},{"p":"b","x":937.4,"y":851.3},{"p":"b","x":937.16,"y":829.8},{"p":"b","x":936.92,"y":849.1},{"p":"b","x":936.52,"y":913.5},{"p":"b","x":936.29,"y":894.2},{"p":"b","x":936.13,"y":911.4},{"p":"b","x":935.97,"y":890},{"p":"b","x":935.81,"y":877},{"p":"b","x":935.65,"y":881.3},{"p":"b","x":935.1,"y":932.9},{"p":"b","x":934.94,"y":965},{"p":"b","x":934.78,"y":968.3},{"p":"b","x":934.7,"y":972.6},{"p":"b","x":934.54,"y":961.9},{"p":"b","x":934.46,"y":952.2},{"p":"b","x":934.22,"y":962.9},{"p":"b","x":934.14,"y":953.3},{"p":"b","x":933.98,"y":945.8},{"p":"b","x":933.83,"y":926.4},{"p":"b","x":933.59,"y":898.5},{"p":"b","x":933.43,"y":891},{"p":"b","x":933.27,"y":868.4},{"p":"b","x":933.03,"y":885.6},{"p":"b","x":932.87,"y":853.4},{"p":"b","x":932.71,"y":864},{"p":"b","x":932.48,"y":855.5},{"p":"b","x":932.16,"y":870.6},{"p":"b","x":932.0,"y":858.8},{"p":"b","x":931.68,"y":795.4},{"p":"b","x":931.44,"y":821.2},{"p":"b","x":931.21,"y":802.9},{"p":"b","x":931.05,"y":791.1},{"p":"b","x":930.81,"y":825.5},{"p":"b","x":930.49,"y":819},{"p":"b","x":930.25,"y":804},{"p":"b","x":930.1,"y":841.6},{"p":"b","x":929.94,"y":799.7},{"p":"b","x":929.7,"y":814.7},{"p":"b","x":929.54,"y":802.9},{"p":"b","x":929.3,"y":829.8},{"p":"b","x":929.06,"y":799.7},{"p":"b","x":928.9,"y":821.2},{"p":"b","x":928.51,"y":810.4},{"p":"b","x":928.11,"y":817},{"p":"b","x":927.95,"y":825.5},{"p":"b","x":927.79,"y":801.8},{"p":"b","x":927.63,"y":832},{"p":"b","x":927.48,"y":793.3},{"p":"b","x":927.32,"y":823.3},
{"p":"c","x":948.03,"y":1441},{"p":"c","x":947.92,"y":1423},{"p":"c","x":947.79,"y":1404},{"p":"c","x":947.63,"y":1472},{"p":"c","x":947.48,"y":1429},{"p":"c","x":947.32,"y":1460},{"p":"c","x":947.16,"y":1441},{"p":"c","x":947.0,"y":1416},{"p":"c","x":946.84,"y":1398},{"p":"c","x":946.68,"y":1423},{"p":"c","x":946.37,"y":1447},{"p":"c","x":946.13,"y":1435},{"p":"c","x":945.81,"y":1361},{"p":"c","x":945.57,"y":1466},{"p":"c","x":945.33,"y":1454},{"p":"c","x":945.1,"y":1485},{"p":"c","x":944.86,"y":1497},{"p":"c","x":944.62,"y":1509},{"p":"c","x":944.38,"y":1522},{"p":"c","x":944.14,"y":1546},{"p":"c","x":943.9,"y":1559},{"p":"c","x":943.67,"y":1571},{"p":"c","x":943.43,"y":1596},{"p":"c","x":943.19,"y":1583},{"p":"c","x":942.95,"y":1596},{"p":"c","x":942.79,"y":1596},{"p":"c","x":942.63,"y":1553},{"p":"c","x":942.4,"y":1583},{"p":"c","x":942.16,"y":1571},{"p":"c","x":941.92,"y":1596},{"p":"c","x":941.68,"y":1608},{"p":"c","x":941.44,"y":1627},{"p":"c","x":941.29,"y":1602},{"p":"c","x":941.13,"y":1571},{"p":"c","x":940.97,"y":1559},{"p":"c","x":940.73,"y":1590},{"p":"c","x":940.49,"y":1571},{"p":"c","x":940.25,"y":1553},{"p":"c","x":940.02,"y":1571},{"p":"c","x":939.78,"y":1553},{"p":"c","x":939.54,"y":1559},{"p":"c","x":939.3,"y":1577},{"p":"c","x":939.06,"y":1571},{"p":"c","x":938.9,"y":1553},{"p":"c","x":938.75,"y":1528},{"p":"c","x":938.51,"y":1522},{"p":"c","x":938.35,"y":1491},{"p":"c","x":938.19,"y":1478},{"p":"c","x":937.95,"y":1460},{"p":"c","x":937.79,"y":1435},{"p":"c","x":937.63,"y":1416},{"p":"c","x":937.48,"y":1429},{"p":"c","x":937.24,"y":1423},{"p":"c","x":937.0,"y":1404},{"p":"c","x":936.76,"y":1398},{"p":"c","x":936.52,"y":1447},{"p":"c","x":936.29,"y":1423},{"p":"c","x":936.13,"y":1466},{"p":"c","x":935.89,"y":1497},{"p":"c","x":935.65,"y":1546},{"p":"c","x":935.41,"y":1571},{"p":"c","x":935.25,"y":1633},{"p":"c","x":935.02,"y":1720},{"p":"c","x":934.86,"y":1769},{"p":"c","x":934.7,"y":1806},{"p":"c","x":934.54,"y":1843},{"p":"c","x":934.38,"y":1880},{"p":"c","x":934.22,"y":1930},{"p":"c","x":934.06,"y":1967},{"p":"c","x":933.9,"y":1992},{"p":"c","x":933.67,"y":2004},{"p":"c","x":933.43,"y":2016},{"p":"c","x":933.27,"y":2035},{"p":"c","x":933.03,"y":2054},{"p":"c","x":932.79,"y":2091},{"p":"c","x":932.63,"y":2072},{"p":"c","x":932.48,"y":2047},{"p":"c","x":932.24,"y":2010},{"p":"c","x":932.08,"y":1967},{"p":"c","x":931.92,"y":1942},{"p":"c","x":931.68,"y":1880},{"p":"c","x":931.52,"y":1874},{"p":"c","x":931.37,"y":1862},{"p":"c","x":931.21,"y":1849},{"p":"c","x":931.05,"y":1837},{"p":"c","x":930.81,"y":1794},{"p":"c","x":930.65,"y":1720},{"p":"c","x":930.49,"y":1645},{"p":"c","x":930.25,"y":1571},{"p":"c","x":930.02,"y":1497},{"p":"c","x":929.78,"y":1423},{"p":"c","x":929.54,"y":1361},{"p":"c","x":929.22,"y":1311},{"p":"c","x":928.9,"y":1287},{"p":"c","x":928.59,"y":1280},{"p":"c","x":928.27,"y":1268},{"p":"c","x":927.95,"y":1256},{"p":"c","x":927.63,"y":1249},{"p":"c","x":927.4,"y":1231},{"p":"c","x":927.24,"y":1249},
{"p":"d","x":948.0,"y":740},{"p":"d","x":947.72,"y":740},{"p":"d","x":947.64,"y":763.3},{"p":"d","x":947.56,"y":778.3},{"p":"d","x":947.44,"y":745},{"p":"d","x":947.33,"y":718.3},{"p":"d","x":947.17,"y":715},{"p":"d","x":947.09,"y":706.7},{"p":"d","x":946.94,"y":733.3},{"p":"d","x":946.78,"y":728.3},{"p":"d","x":946.63,"y":716.7},{"p":"d","x":946.47,"y":715},{"p":"d","x":946.31,"y":743.3},{"p":"d","x":946.08,"y":751.7},{"p":"d","x":946.0,"y":771.7},{"p":"d","x":945.92,"y":746.7},{"p":"d","x":945.84,"y":713.3},{"p":"d","x":945.61,"y":746.7},{"p":"d","x":945.38,"y":705},{"p":"d","x":945.06,"y":753.3},{"p":"d","x":944.83,"y":710},{"p":"d","x":944.67,"y":751.7},{"p":"d","x":944.44,"y":760},{"p":"d","x":944.28,"y":770},{"p":"d","x":944.13,"y":775},{"p":"d","x":943.97,"y":780},{"p":"d","x":943.81,"y":773.3},{"p":"d","x":943.66,"y":763.3},{"p":"d","x":943.5,"y":753.3},{"p":"d","x":943.34,"y":750},{"p":"d","x":943.19,"y":766.7},{"p":"d","x":942.95,"y":776.7},{"p":"d","x":942.8,"y":746.7},{"p":"d","x":942.64,"y":760},{"p":"d","x":942.41,"y":770},{"p":"d","x":942.17,"y":786.7},{"p":"d","x":941.94,"y":785},{"p":"d","x":941.78,"y":773.3},{"p":"d","x":941.55,"y":770},{"p":"d","x":941.31,"y":778.3},{"p":"d","x":941.08,"y":773.3},{"p":"d","x":940.84,"y":806.7},{"p":"d","x":940.61,"y":790},{"p":"d","x":940.38,"y":783.3},{"p":"d","x":940.22,"y":786.7},{"p":"d","x":939.98,"y":776.7},{"p":"d","x":939.83,"y":791.7},{"p":"d","x":939.59,"y":788.3},{"p":"d","x":939.36,"y":786.7},{"p":"d","x":939.13,"y":761.7},{"p":"d","x":938.97,"y":740},{"p":"d","x":938.73,"y":756.7},{"p":"d","x":938.5,"y":750},{"p":"d","x":938.34,"y":776.7},{"p":"d","x":938.11,"y":780},{"p":"d","x":937.95,"y":736.7},{"p":"d","x":937.72,"y":740},{"p":"d","x":937.41,"y":736.7},{"p":"d","x":937.25,"y":743.3},{"p":"d","x":936.86,"y":711.7},{"p":"d","x":936.63,"y":733.3},{"p":"d","x":936.39,"y":733.3},{"p":"d","x":936.23,"y":770},{"p":"d","x":936.0,"y":753.3},{"p":"d","x":935.77,"y":770},{"p":"d","x":935.53,"y":786.7},{"p":"d","x":935.3,"y":796.7},{"p":"d","x":935.06,"y":816.7},{"p":"d","x":934.91,"y":840},{"p":"d","x":934.67,"y":853.3},{"p":"d","x":934.52,"y":863.3},{"p":"d","x":934.36,"y":870},{"p":"d","x":934.2,"y":880},{"p":"d","x":934.05,"y":893.3},{"p":"d","x":933.89,"y":883.3},{"p":"d","x":933.66,"y":896.7},{"p":"d","x":933.42,"y":876.7},{"p":"d","x":933.27,"y":853.3},{"p":"d","x":933.03,"y":883.3},{"p":"d","x":932.8,"y":840},{"p":"d","x":932.56,"y":886.7},{"p":"d","x":932.33,"y":886.7},{"p":"d","x":932.25,"y":853.3},{"p":"d","x":932.09,"y":873.3},{"p":"d","x":931.86,"y":846.7},{"p":"d","x":931.63,"y":826.7},{"p":"d","x":931.39,"y":810},{"p":"d","x":931.16,"y":796.7},{"p":"d","x":930.92,"y":783.3},{"p":"d","x":930.77,"y":785},{"p":"d","x":930.45,"y":773.3},{"p":"d","x":930.3,"y":760},{"p":"d","x":930.06,"y":733.3},{"p":"d","x":929.83,"y":716.7},{"p":"d","x":929.67,"y":693.3},{"p":"d","x":929.52,"y":683.3},{"p":"d","x":929.28,"y":696.7},{"p":"d","x":929.05,"y":710},{"p":"d","x":928.81,"y":736.7},{"p":"d","x":928.58,"y":696.7},{"p":"d","x":928.42,"y":713.3},{"p":"d","x":928.19,"y":701.7},{"p":"d","x":928.03,"y":731.7},{"p":"d","x":927.88,"y":720},{"p":"d","x":927.72,"y":713.3},{"p":"d","x":927.56,"y":730},{"p":"d","x":927.41,"y":703.3}
],
"box": [
{"p":"a","x":947.6,"x2":941.1,"y":1541,"y2":1474},{"p":"a","x":932.1,"x2":927.45,"y":1589,"y2":1483.5},
{"p":"b","x":947.52,"x2":938.0,"y":976.2,"y2":913.8},{"p":"b","x":932.0,"x2":927.32,"y":995,"y2":935.7},
{"p":"c","x":947.74,"x2":940.76,"y":2358.9,"y2":2117.5},{"p":"c","x":932.0,"x2":927.32,"y":2477.7,"y2":2132.3},
{"p":"d","x":947.52,"x2":938.02,"y":957,"y2":859},{"p":"d","x":932.17,"x2":927.41,"y":992,"y2":899}
],
"leg": [
{"p":"a","c":"o","x":931.37,"y":1568},{"p":"a","c":"s","x":931.37,"y":1537},{"p":"a","c":"d","x":931.37,"y":1505},
{"p":"b","c":"o","x":931.23,"y":984.8},{"p":"b","c":"s","x":931.23,"y":966.6},{"p":"b","c":"d","x":931.23,"y":949.4},
{"p":"c","c":"o","x":931.23,"y":2402.3},{"p":"c","c":"s","x":931.23,"y":2309.5},{"p":"c","c":"d","x":931.23,"y":2204},
{"p":"d","c":"o","x":931.37,"y":972},{"p":"d","c":"s","x":931.37,"y":947},{"p":"d","c":"d","x":931.37,"y":918.7}
],
"txt": [
{"p":"a","k":"T","x":939.24,"y":1567,"t":"Narrow Scan Cu2p"},{"p":"a","k":"T2","x":939.24,"y":1560,"t":"3/2"},{"p":"a","k":"B","x":944.35,"y":1517.5,"t":"Cu-modified"},{"p":"a","k":"B","x":944.35,"y":1485.5,"t":"PU with PDA"},{"p":"a","k":"L","x":930.6,"y":1560,"t":"Cu₂O"},{"p":"a","k":"L","x":930.6,"y":1529,"t":"CuO"},{"p":"a","k":"L","x":930.6,"y":1497,"t":"Cu(OH)₂"},{"p":"a","k":"S","x":943.34,"y":1364.6,"t":"Satellites"},{"p":"a","k":"P","x":928.25,"y":1352,"t":"(a)"},
{"p":"b","k":"T","x":939.22,"y":984.6,"t":"Narrow Scan Cu2p"},{"p":"b","k":"T2","x":939.22,"y":980.7,"t":"3/2"},{"p":"b","k":"B","x":942.8,"y":958.8,"t":"Cu-modified"},{"p":"b","k":"B","x":942.8,"y":940.8,"t":"PU with PDA"},{"p":"b","k":"BI","x":942.8,"y":921.6,"t":"After Incubation"},{"p":"b","k":"L","x":930.43,"y":981.4,"t":"Cu₂O"},{"p":"b","k":"L","x":930.43,"y":962.7,"t":"CuO"},{"p":"b","k":"L","x":930.43,"y":945.3,"t":"Cu(OH)₂"},{"p":"b","k":"S","x":943.2,"y":891.5,"t":"Satellites"},{"p":"b","k":"P","x":928.87,"y":857.3,"t":"(b)"},
{"p":"c","k":"T","x":939.33,"y":2396,"t":"Narrow Scan Cu2p"},{"p":"c","k":"T2","x":939.33,"y":2373.7,"t":"3/2"},{"p":"c","k":"B","x":944.34,"y":2266,"t":"Cu-modified"},{"p":"c","k":"B","x":944.34,"y":2160.9,"t":"PVC with PDA"},{"p":"c","k":"L","x":930.43,"y":2377.4,"t":"Cu₂O"},{"p":"c","k":"L","x":930.43,"y":2284.6,"t":"CuO"},{"p":"c","k":"L","x":930.43,"y":2180.6,"t":"Cu(OH)₂"},{"p":"c","k":"S","x":941.78,"y":1684,"t":"Satellites"},{"p":"c","k":"P","x":928.56,"y":1735,"t":"(c)"},
{"p":"d","k":"T","x":939.33,"y":969,"t":"Narrow Scan Cu2p"},{"p":"d","k":"T2","x":939.33,"y":963,"t":"3/2"},{"p":"d","k":"B","x":942.76,"y":930.3,"t":"Cu-modified"},{"p":"d","k":"B","x":942.76,"y":903,"t":"PVC with PDA"},{"p":"d","k":"BI","x":942.76,"y":872,"t":"After Incubation"},{"p":"d","k":"L","x":930.6,"y":965,"t":"Cu₂O"},{"p":"d","k":"L","x":930.6,"y":939,"t":"CuO"},{"p":"d","k":"L","x":930.6,"y":910,"t":"Cu(OH)₂"},{"p":"d","k":"S","x":941.26,"y":822,"t":"Satellites"},{"p":"d","k":"P","x":928.83,"y":797,"t":"(d)"}
]
},
"columns": 2,
"spacing": {"row": 77, "column": 87},
"bounds": "flush",
"concat": [
{
"width": 474, "height": 350,
"encoding": {
 "x": {"field": "x", "type": "quantitative", "scale": {"domain": [927, 948.1], "reverse": true, "nice": false, "zero": false}, "axis": {"values": [947, 942, 937, 932, 927], "format": "d", "title": "Binding Energy (eV)"}},
 "y": {"field": "y", "type": "quantitative", "scale": {"domain": [1200, 1600], "nice": false, "zero": false}, "axis": {"values": [1200, 1300, 1400, 1500, 1600], "format": "d", "title": "Counts per sec"}}
},
"layer": [
 {"data": {"name": "bg"}, "transform": [{"filter": "datum.p=='a'"}], "mark": {"type": "line", "color": "#3a3a3a", "strokeWidth": 7, "interpolate": "monotone"}},
 {"data": {"name": "bg"}, "transform": [{"filter": "datum.p=='a'"}], "mark": {"type": "line", "color": "#a0a0a0", "strokeWidth": 1.5, "strokeDash": [2, 2], "interpolate": "monotone"}},
 {"data": {"name": "sat"}, "transform": [{"filter": "datum.p=='a'"}], "mark": {"type": "line", "color": "#333333", "strokeWidth": 6, "interpolate": "monotone"}, "encoding": {"detail": {"field": "s", "type": "nominal"}}},
 {"data": {"name": "sat"}, "transform": [{"filter": "datum.p=='a'"}], "mark": {"type": "line", "color": "#c4c4c4", "strokeWidth": 2.5, "strokeDash": [2, 1.5], "interpolate": "monotone"}, "encoding": {"detail": {"field": "s", "type": "nominal"}}},
 {"data": {"name": "cmp"}, "transform": [{"filter": "datum.p=='a'"}], "mark": {"type": "point", "filled": false, "fill": "white", "fillOpacity": 1, "stroke": "black", "strokeWidth": 1, "opacity": 1}, "encoding": {"shape": {"field": "c", "type": "nominal", "scale": {"domain": ["o", "s", "d"], "range": ["circle", "square", "diamond"]}, "legend": null}, "size": {"field": "c", "type": "nominal", "scale": {"domain": ["o", "s", "d"], "range": [85, 68, 95]}, "legend": null}}},
 {"data": {"name": "env"}, "transform": [{"filter": "datum.p=='a'"}], "mark": {"type": "line", "color": "black", "strokeWidth": 1.2, "strokeDash": [4, 3]}},
 {"data": {"name": "pts"}, "transform": [{"filter": "datum.p=='a'"}], "mark": {"type": "circle", "color": "black", "size": 32, "opacity": 1}},
 {"data": {"name": "box"}, "transform": [{"filter": "datum.p=='a'"}], "mark": {"type": "rect", "fill": "white", "stroke": "black", "strokeWidth": 1.5}, "encoding": {"x2": {"field": "x2"}, "y2": {"field": "y2"}}},
 {"data": {"name": "leg"}, "transform": [{"filter": "datum.p=='a'"}], "mark": {"type": "point", "filled": false, "fill": "white", "fillOpacity": 1, "stroke": "black", "strokeWidth": 1.3, "opacity": 1, "size": 470}, "encoding": {"shape": {"field": "c", "type": "nominal", "scale": {"domain": ["o", "s", "d"], "range": ["circle", "square", "diamond"]}, "legend": null}}},
 {"data": {"name": "txt"}, "transform": [{"filter": "datum.p=='a' && datum.k=='T'"}], "mark": {"type": "text", "fontSize": 23, "fontWeight": "bold", "align": "right", "baseline": "alphabetic", "color": "black"}, "encoding": {"text": {"field": "t"}}},
 {"data": {"name": "txt"}, "transform": [{"filter": "datum.p=='a' && datum.k=='T2'"}], "mark": {"type": "text", "fontSize": 14, "fontWeight": "bold", "align": "left", "baseline": "alphabetic", "color": "black"}, "encoding": {"text": {"field": "t"}}},
 {"data": {"name": "txt"}, "transform": [{"filter": "datum.p=='a' && datum.k=='B'"}], "mark": {"type": "text", "fontSize": 21, "fontWeight": "bold", "align": "center", "baseline": "alphabetic", "color": "black"}, "encoding": {"text": {"field": "t"}}},
 {"data": {"name": "txt"}, "transform": [{"filter": "datum.p=='a' && datum.k=='L'"}], "mark": {"type": "text", "fontSize": 18, "fontWeight": "bold", "align": "left", "baseline": "alphabetic", "color": "black"}, "encoding": {"text": {"field": "t"}}},
 {"data": {"name": "txt"}, "transform": [{"filter": "datum.p=='a' && datum.k=='S'"}], "mark": {"type": "text", "fontSize": 21, "fontWeight": "bold", "align": "center", "baseline": "alphabetic", "color": "black"}, "encoding": {"text": {"field": "t"}}},
 {"data": {"name": "txt"}, "transform": [{"filter": "datum.p=='a' && datum.k=='P'"}], "mark": {"type": "text", "fontSize": 42, "fontWeight": "bold", "align": "center", "baseline": "middle", "color": "black"}, "encoding": {"text": {"field": "t"}}}
]
},
{
"width": 474, "height": 350,
"encoding": {
 "x": {"field": "x", "type": "quantitative", "scale": {"domain": [927, 948.1], "reverse": true, "nice": false, "zero": false}, "axis": {"values": [947, 942, 937, 932, 927], "format": "d", "title": "Binding Energy (eV)"}},
 "y": {"field": "y", "type": "quantitative", "scale": {"domain": [775, 1000], "nice": false, "zero": false}, "axis": {"values": [775, 820, 865, 910, 955, 1000], "format": "d", "title": "Counts per sec"}}
},
"layer": [
 {"data": {"name": "bg"}, "transform": [{"filter": "datum.p=='b'"}], "mark": {"type": "line", "color": "#3a3a3a", "strokeWidth": 7, "interpolate": "monotone"}},
 {"data": {"name": "bg"}, "transform": [{"filter": "datum.p=='b'"}], "mark": {"type": "line", "color": "#a0a0a0", "strokeWidth": 1.5, "strokeDash": [2, 2], "interpolate": "monotone"}},
 {"data": {"name": "sat"}, "transform": [{"filter": "datum.p=='b'"}], "mark": {"type": "line", "color": "#333333", "strokeWidth": 6, "interpolate": "monotone"}, "encoding": {"detail": {"field": "s", "type": "nominal"}}},
 {"data": {"name": "sat"}, "transform": [{"filter": "datum.p=='b'"}], "mark": {"type": "line", "color": "#c4c4c4", "strokeWidth": 2.5, "strokeDash": [2, 1.5], "interpolate": "monotone"}, "encoding": {"detail": {"field": "s", "type": "nominal"}}},
 {"data": {"name": "cmp"}, "transform": [{"filter": "datum.p=='b'"}], "mark": {"type": "point", "filled": false, "fill": "white", "fillOpacity": 1, "stroke": "black", "strokeWidth": 1, "opacity": 1}, "encoding": {"shape": {"field": "c", "type": "nominal", "scale": {"domain": ["o", "s", "d"], "range": ["circle", "square", "diamond"]}, "legend": null}, "size": {"field": "c", "type": "nominal", "scale": {"domain": ["o", "s", "d"], "range": [85, 68, 95]}, "legend": null}}},
 {"data": {"name": "env"}, "transform": [{"filter": "datum.p=='b'"}], "mark": {"type": "line", "color": "black", "strokeWidth": 1.2, "strokeDash": [4, 3]}},
 {"data": {"name": "pts"}, "transform": [{"filter": "datum.p=='b'"}], "mark": {"type": "circle", "color": "black", "size": 32, "opacity": 1}},
 {"data": {"name": "box"}, "transform": [{"filter": "datum.p=='b'"}], "mark": {"type": "rect", "fill": "white", "stroke": "black", "strokeWidth": 1.5}, "encoding": {"x2": {"field": "x2"}, "y2": {"field": "y2"}}},
 {"data": {"name": "leg"}, "transform": [{"filter": "datum.p=='b'"}], "mark": {"type": "point", "filled": false, "fill": "white", "fillOpacity": 1, "stroke": "black", "strokeWidth": 1.3, "opacity": 1, "size": 470}, "encoding": {"shape": {"field": "c", "type": "nominal", "scale": {"domain": ["o", "s", "d"], "range": ["circle", "square", "diamond"]}, "legend": null}}},
 {"data": {"name": "txt"}, "transform": [{"filter": "datum.p=='b' && datum.k=='T'"}], "mark": {"type": "text", "fontSize": 23, "fontWeight": "bold", "align": "right", "baseline": "alphabetic", "color": "black"}, "encoding": {"text": {"field": "t"}}},
 {"data": {"name": "txt"}, "transform": [{"filter": "datum.p=='b' && datum.k=='T2'"}], "mark": {"type": "text", "fontSize": 14, "fontWeight": "bold", "align": "left", "baseline": "alphabetic", "color": "black"}, "encoding": {"text": {"field": "t"}}},
 {"data": {"name": "txt"}, "transform": [{"filter": "datum.p=='b' && datum.k=='B'"}], "mark": {"type": "text", "fontSize": 21, "fontWeight": "bold", "align": "center", "baseline": "alphabetic", "color": "black"}, "encoding": {"text": {"field": "t"}}},
 {"data": {"name": "txt"}, "transform": [{"filter": "datum.p=='b' && datum.k=='BI'"}], "mark": {"type": "text", "fontSize": 25, "fontWeight": "bold", "align": "center", "baseline": "alphabetic", "color": "black"}, "encoding": {"text": {"field": "t"}}},
 {"data": {"name": "txt"}, "transform": [{"filter": "datum.p=='b' && datum.k=='L'"}], "mark": {"type": "text", "fontSize": 18, "fontWeight": "bold", "align": "left", "baseline": "alphabetic", "color": "black"}, "encoding": {"text": {"field": "t"}}},
 {"data": {"name": "txt"}, "transform": [{"filter": "datum.p=='b' && datum.k=='S'"}], "mark": {"type": "text", "fontSize": 21, "fontWeight": "bold", "align": "center", "baseline": "alphabetic", "color": "black"}, "encoding": {"text": {"field": "t"}}},
 {"data": {"name": "txt"}, "transform": [{"filter": "datum.p=='b' && datum.k=='P'"}], "mark": {"type": "text", "fontSize": 42, "fontWeight": "bold", "align": "center", "baseline": "middle", "color": "black"}, "encoding": {"text": {"field": "t"}}}
]
},
{
"width": 474, "height": 350,
"encoding": {
 "x": {"field": "x", "type": "quantitative", "scale": {"domain": [927, 948.1], "reverse": true, "nice": false, "zero": false}, "axis": {"values": [947, 942, 937, 932, 927], "format": "d", "title": "Binding Energy (eV)"}},
 "y": {"field": "y", "type": "quantitative", "scale": {"domain": [1200, 2500], "nice": false, "zero": false}, "axis": {"values": [1200, 1500, 1800, 2100, 2400], "format": "d", "title": "Counts per sec"}}
},
"layer": [
 {"data": {"name": "bg"}, "transform": [{"filter": "datum.p=='c'"}], "mark": {"type": "line", "color": "#3a3a3a", "strokeWidth": 7, "interpolate": "monotone"}},
 {"data": {"name": "bg"}, "transform": [{"filter": "datum.p=='c'"}], "mark": {"type": "line", "color": "#a0a0a0", "strokeWidth": 1.5, "strokeDash": [2, 2], "interpolate": "monotone"}},
 {"data": {"name": "sat"}, "transform": [{"filter": "datum.p=='c'"}], "mark": {"type": "line", "color": "#333333", "strokeWidth": 6, "interpolate": "monotone"}, "encoding": {"detail": {"field": "s", "type": "nominal"}}},
 {"data": {"name": "sat"}, "transform": [{"filter": "datum.p=='c'"}], "mark": {"type": "line", "color": "#c4c4c4", "strokeWidth": 2.5, "strokeDash": [2, 1.5], "interpolate": "monotone"}, "encoding": {"detail": {"field": "s", "type": "nominal"}}},
 {"data": {"name": "cmp"}, "transform": [{"filter": "datum.p=='c'"}], "mark": {"type": "point", "filled": false, "fill": "white", "fillOpacity": 1, "stroke": "black", "strokeWidth": 1, "opacity": 1}, "encoding": {"shape": {"field": "c", "type": "nominal", "scale": {"domain": ["o", "s", "d"], "range": ["circle", "square", "diamond"]}, "legend": null}, "size": {"field": "c", "type": "nominal", "scale": {"domain": ["o", "s", "d"], "range": [85, 68, 95]}, "legend": null}}},
 {"data": {"name": "env"}, "transform": [{"filter": "datum.p=='c'"}], "mark": {"type": "line", "color": "black", "strokeWidth": 1.2, "strokeDash": [4, 3]}},
 {"data": {"name": "pts"}, "transform": [{"filter": "datum.p=='c'"}], "mark": {"type": "circle", "color": "black", "size": 32, "opacity": 1}},
 {"data": {"name": "box"}, "transform": [{"filter": "datum.p=='c'"}], "mark": {"type": "rect", "fill": "white", "stroke": "black", "strokeWidth": 1.5}, "encoding": {"x2": {"field": "x2"}, "y2": {"field": "y2"}}},
 {"data": {"name": "leg"}, "transform": [{"filter": "datum.p=='c'"}], "mark": {"type": "point", "filled": false, "fill": "white", "fillOpacity": 1, "stroke": "black", "strokeWidth": 1.3, "opacity": 1, "size": 470}, "encoding": {"shape": {"field": "c", "type": "nominal", "scale": {"domain": ["o", "s", "d"], "range": ["circle", "square", "diamond"]}, "legend": null}}},
 {"data": {"name": "txt"}, "transform": [{"filter": "datum.p=='c' && datum.k=='T'"}], "mark": {"type": "text", "fontSize": 23, "fontWeight": "bold", "align": "right", "baseline": "alphabetic", "color": "black"}, "encoding": {"text": {"field": "t"}}},
 {"data": {"name": "txt"}, "transform": [{"filter": "datum.p=='c' && datum.k=='T2'"}], "mark": {"type": "text", "fontSize": 14, "fontWeight": "bold", "align": "left", "baseline": "alphabetic", "color": "black"}, "encoding": {"text": {"field": "t"}}},
 {"data": {"name": "txt"}, "transform": [{"filter": "datum.p=='c' && datum.k=='B'"}], "mark": {"type": "text", "fontSize": 21, "fontWeight": "bold", "align": "center", "baseline": "alphabetic", "color": "black"}, "encoding": {"text": {"field": "t"}}},
 {"data": {"name": "txt"}, "transform": [{"filter": "datum.p=='c' && datum.k=='L'"}], "mark": {"type": "text", "fontSize": 18, "fontWeight": "bold", "align": "left", "baseline": "alphabetic", "color": "black"}, "encoding": {"text": {"field": "t"}}},
 {"data": {"name": "txt"}, "transform": [{"filter": "datum.p=='c' && datum.k=='S'"}], "mark": {"type": "text", "fontSize": 21, "fontWeight": "bold", "align": "center", "baseline": "alphabetic", "color": "black"}, "encoding": {"text": {"field": "t"}}},
 {"data": {"name": "txt"}, "transform": [{"filter": "datum.p=='c' && datum.k=='P'"}], "mark": {"type": "text", "fontSize": 42, "fontWeight": "bold", "align": "center", "baseline": "middle", "color": "black"}, "encoding": {"text": {"field": "t"}}}
]
},
{
"width": 474, "height": 350,
"encoding": {
 "x": {"field": "x", "type": "quantitative", "scale": {"domain": [927, 948.1], "reverse": true, "nice": false, "zero": false}, "axis": {"values": [948, 945, 942, 939, 936, 933, 930, 927], "format": "d", "title": "Binding Energy (eV)"}},
 "y": {"field": "y", "type": "quantitative", "scale": {"domain": [650, 1000], "nice": false, "zero": false}, "axis": {"values": [650, 700, 750, 800, 850, 900, 950, 1000], "format": "d", "title": "Counts per sec"}}
},
"layer": [
 {"data": {"name": "bg"}, "transform": [{"filter": "datum.p=='d'"}], "mark": {"type": "line", "color": "#3a3a3a", "strokeWidth": 7, "interpolate": "monotone"}},
 {"data": {"name": "bg"}, "transform": [{"filter": "datum.p=='d'"}], "mark": {"type": "line", "color": "#a0a0a0", "strokeWidth": 1.5, "strokeDash": [2, 2], "interpolate": "monotone"}},
 {"data": {"name": "sat"}, "transform": [{"filter": "datum.p=='d'"}], "mark": {"type": "line", "color": "#333333", "strokeWidth": 6, "interpolate": "monotone"}, "encoding": {"detail": {"field": "s", "type": "nominal"}}},
 {"data": {"name": "sat"}, "transform": [{"filter": "datum.p=='d'"}], "mark": {"type": "line", "color": "#c4c4c4", "strokeWidth": 2.5, "strokeDash": [2, 1.5], "interpolate": "monotone"}, "encoding": {"detail": {"field": "s", "type": "nominal"}}},
 {"data": {"name": "cmp"}, "transform": [{"filter": "datum.p=='d'"}], "mark": {"type": "point", "filled": false, "fill": "white", "fillOpacity": 1, "stroke": "black", "strokeWidth": 1, "opacity": 1}, "encoding": {"shape": {"field": "c", "type": "nominal", "scale": {"domain": ["o", "s", "d"], "range": ["circle", "square", "diamond"]}, "legend": null}, "size": {"field": "c", "type": "nominal", "scale": {"domain": ["o", "s", "d"], "range": [85, 68, 95]}, "legend": null}}},
 {"data": {"name": "env"}, "transform": [{"filter": "datum.p=='d'"}], "mark": {"type": "line", "color": "black", "strokeWidth": 1.2, "strokeDash": [4, 3]}},
 {"data": {"name": "pts"}, "transform": [{"filter": "datum.p=='d'"}], "mark": {"type": "circle", "color": "black", "size": 32, "opacity": 1}},
 {"data": {"name": "box"}, "transform": [{"filter": "datum.p=='d'"}], "mark": {"type": "rect", "fill": "white", "stroke": "black", "strokeWidth": 1.5}, "encoding": {"x2": {"field": "x2"}, "y2": {"field": "y2"}}},
 {"data": {"name": "leg"}, "transform": [{"filter": "datum.p=='d'"}], "mark": {"type": "point", "filled": false, "fill": "white", "fillOpacity": 1, "stroke": "black", "strokeWidth": 1.3, "opacity": 1, "size": 470}, "encoding": {"shape": {"field": "c", "type": "nominal", "scale": {"domain": ["o", "s", "d"], "range": ["circle", "square", "diamond"]}, "legend": null}}},
 {"data": {"name": "txt"}, "transform": [{"filter": "datum.p=='d' && datum.k=='T'"}], "mark": {"type": "text", "fontSize": 23, "fontWeight": "bold", "align": "right", "baseline": "alphabetic", "color": "black"}, "encoding": {"text": {"field": "t"}}},
 {"data": {"name": "txt"}, "transform": [{"filter": "datum.p=='d' && datum.k=='T2'"}], "mark": {"type": "text", "fontSize": 14, "fontWeight": "bold", "align": "left", "baseline": "alphabetic", "color": "black"}, "encoding": {"text": {"field": "t"}}},
 {"data": {"name": "txt"}, "transform": [{"filter": "datum.p=='d' && datum.k=='B'"}], "mark": {"type": "text", "fontSize": 21, "fontWeight": "bold", "align": "center", "baseline": "alphabetic", "color": "black"}, "encoding": {"text": {"field": "t"}}},
 {"data": {"name": "txt"}, "transform": [{"filter": "datum.p=='d' && datum.k=='BI'"}], "mark": {"type": "text", "fontSize": 25, "fontWeight": "bold", "align": "center", "baseline": "alphabetic", "color": "black"}, "encoding": {"text": {"field": "t"}}},
 {"data": {"name": "txt"}, "transform": [{"filter": "datum.p=='d' && datum.k=='L'"}], "mark": {"type": "text", "fontSize": 18, "fontWeight": "bold", "align": "left", "baseline": "alphabetic", "color": "black"}, "encoding": {"text": {"field": "t"}}},
 {"data": {"name": "txt"}, "transform": [{"filter": "datum.p=='d' && datum.k=='S'"}], "mark": {"type": "text", "fontSize": 21, "fontWeight": "bold", "align": "center", "baseline": "alphabetic", "color": "black"}, "encoding": {"text": {"field": "t"}}},
 {"data": {"name": "txt"}, "transform": [{"filter": "datum.p=='d' && datum.k=='P'"}], "mark": {"type": "text", "fontSize": 42, "fontWeight": "bold", "align": "center", "baseline": "middle", "color": "black"}, "encoding": {"text": {"field": "t"}}}
]
}
]
}
